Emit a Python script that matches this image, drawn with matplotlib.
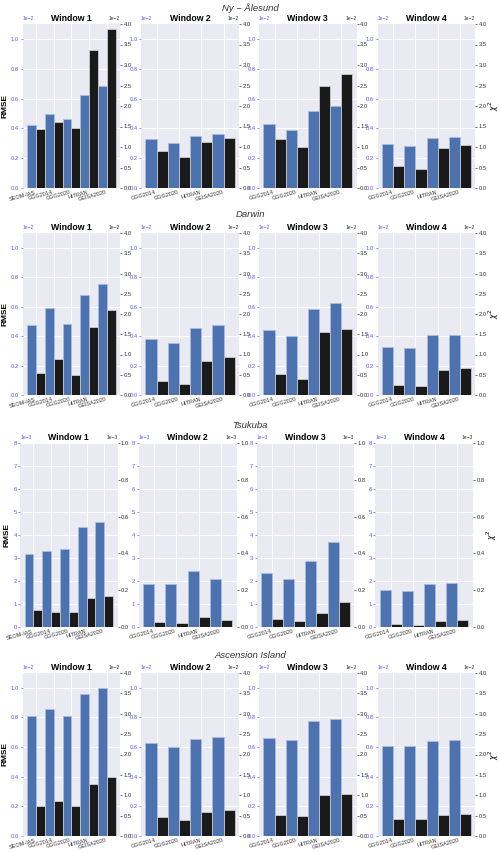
import matplotlib
matplotlib.use("Agg")
import matplotlib.pyplot as plt
import matplotlib.ticker as mticker
import numpy as np

plt.rcParams['font.family'] = ['Liberation Sans', 'DejaVu Sans']

# --- data (values as read, in units of the axis offset) ---
stations = ['Ny − Ålesund', 'Darwin', 'Tsukuba', 'Ascension Island']
windows = ['Window 1', 'Window 2', 'Window 3', 'Window 4']
lines_w1 = ['SEOM-IAS', 'GGG2014', 'GGG2020', 'HITRAN', 'GEISA2020']
lines_other = ['GGG2014', 'GGG2020', 'HITRAN', 'GEISA2020']

scale = [1e-2, 1e-2, 1e-3, 1e-2]
rmse_top = [1.1, 1.1, 8.0, 1.1]
chi2_top = [4.0, 4.0, 1.0, 4.0]
rmse_step = [0.2, 0.2, 1.0, 0.2]
chi2_step = [0.5, 0.5, 0.2, 0.5]

ny_rmse = [[0.422, 0.499, 0.461, 0.627, 0.683],
           [0.328, 0.299, 0.351, 0.360],
           [0.427, 0.387, 0.517, 0.551],
           [0.297, 0.283, 0.337, 0.342]]
ny_chi2 = [[1.44, 1.60, 1.46, 3.36, 3.89],
           [0.91, 0.75, 1.13, 1.23],
           [1.20, 1.00, 2.49, 2.77],
           [0.54, 0.47, 0.98, 1.06]]

darwin_rmse = [[0.474, 0.594, 0.481, 0.682, 0.754],
               [0.381, 0.352, 0.454, 0.472],
               [0.438, 0.404, 0.585, 0.628],
               [0.327, 0.318, 0.406, 0.409]]
darwin_chi2 = [[0.55, 0.885, 0.50, 1.67, 2.10],
               [0.34, 0.28, 0.83, 0.93],
               [0.51, 0.39, 1.55, 1.64],
               [0.25, 0.21, 0.61, 0.66]]

tsukuba_rmse = [[3.17, 3.32, 3.39, 4.33, 4.55],
                [1.89, 1.85, 2.43, 2.07],
                [2.36, 2.09, 2.89, 3.71],
                [1.63, 1.57, 1.88, 1.91]]
tsukuba_chi2 = [[0.091, 0.080, 0.080, 0.160, 0.167],
                [0.025, 0.022, 0.056, 0.040],
                [0.042, 0.031, 0.078, 0.138],
                [0.016, 0.013, 0.035, 0.040]]

asc_rmse = [[0.807, 0.858, 0.813, 0.955, 0.998],
            [0.625, 0.602, 0.654, 0.667],
            [0.658, 0.645, 0.775, 0.787],
            [0.607, 0.604, 0.643, 0.649]]
asc_chi2 = [[0.74, 0.85, 0.74, 1.28, 1.46],
            [0.457, 0.40, 0.59, 0.63],
            [0.51, 0.49, 1.00, 1.03],
            [0.42, 0.41, 0.52, 0.54]]

all_rmse = [ny_rmse, darwin_rmse, tsukuba_rmse, asc_rmse]
all_chi2 = [ny_chi2, darwin_chi2, tsukuba_chi2, asc_chi2]

# --- layout in pixels ---
W, H = 500, 852
row_box = [(24, 188), (233, 395), (443, 627), (673, 836)]
row_title_y = [8, 215, 426, 655]
col_box = [(22.7, 120), (141, 239.3), (259, 356.7), (377.7, 475.3)]
row_shift = [0, 0, -2.5, 0]

BLUE = '#4C72B0'
BLACK = '#1a1a1a'
TICKBLUE = '#5a5aff'
BG = '#EAEAF2'

fig = plt.figure(figsize=(W / 100, H / 100), dpi=100)
fig.patch.set_facecolor('white')

for r in range(4):
    top, bot = row_box[r]
    fig.text(0.5, 1 - row_title_y[r] / H, stations[r], ha='center', va='center',
             fontsize=6.8, fontstyle='italic', color='#333333')
    for c in range(4):
        x0, x1 = col_box[c]
        x0 += row_shift[r]
        x1 += row_shift[r]
        ax = fig.add_axes([x0 / W, 1 - bot / H, (x1 - x0) / W, (bot - top) / H])
        ax.set_facecolor(BG)
        for s in ax.spines.values():
            s.set_visible(False)
        labels = lines_w1 if c == 0 else lines_other
        x = np.arange(len(labels))
        w = 0.5
        rm = np.array(all_rmse[r][c]) * scale[r]
        ch = np.array(all_chi2[r][c]) * scale[r]
        ax.bar(x - w / 2, rm, width=w, color=BLUE, edgecolor='#a8bde0',
               linewidth=0.6, zorder=2)
        ax2 = ax.twinx()
        for s in ax2.spines.values():
            s.set_visible(False)
        ax2.bar(x + w / 2, ch, width=w, color=BLACK, edgecolor='#cccccc',
                linewidth=0.6, zorder=2)

        ax.set_ylim(0, rmse_top[r] * scale[r])
        ax2.set_ylim(0, chi2_top[r] * scale[r])
        ax.yaxis.set_major_locator(mticker.MultipleLocator(rmse_step[r] * scale[r]))
        ax2.yaxis.set_major_locator(mticker.MultipleLocator(chi2_step[r] * scale[r]))
        for a in (ax, ax2):
            fmt = mticker.ScalarFormatter()
            fmt.set_powerlimits((0, 0))
            a.yaxis.set_major_formatter(fmt)

        ax.set_axisbelow(True)
        ax.grid(True, color='white', linewidth=0.7)
        ax2.grid(False)

        ax.set_xticks(x)
        ax.set_xticklabels(labels, rotation=15, ha='right', fontsize=4,
                           color='#333333')
        ax.tick_params(axis='x', length=0, pad=1.5)
        ax.tick_params(axis='y', length=1.5, width=0.5, colors=TICKBLUE,
                       labelsize=4.2, pad=1)
        ax2.tick_params(axis='y', length=1.5, width=0.5, colors='#333333',
                        labelsize=4.2, pad=1)
        ax.yaxis.get_offset_text().set_fontsize(3.6)
        ax.yaxis.get_offset_text().set_color(TICKBLUE)
        ax2.yaxis.get_offset_text().set_fontsize(3.6)
        ax2.yaxis.get_offset_text().set_color('#333333')

        ax.set_title(windows[c], fontsize=6.3, fontweight='bold', pad=2)
        if c == 0:
            ax.set_ylabel('RMSE', fontsize=6, fontweight='bold', labelpad=2)
        if c == 3:
            ax2.set_ylabel(r'$\chi^2$', fontsize=5.5)
            ax2.yaxis.set_label_coords(1.12, 0.5)

fig.savefig('out.png', dpi=100, facecolor='white')
